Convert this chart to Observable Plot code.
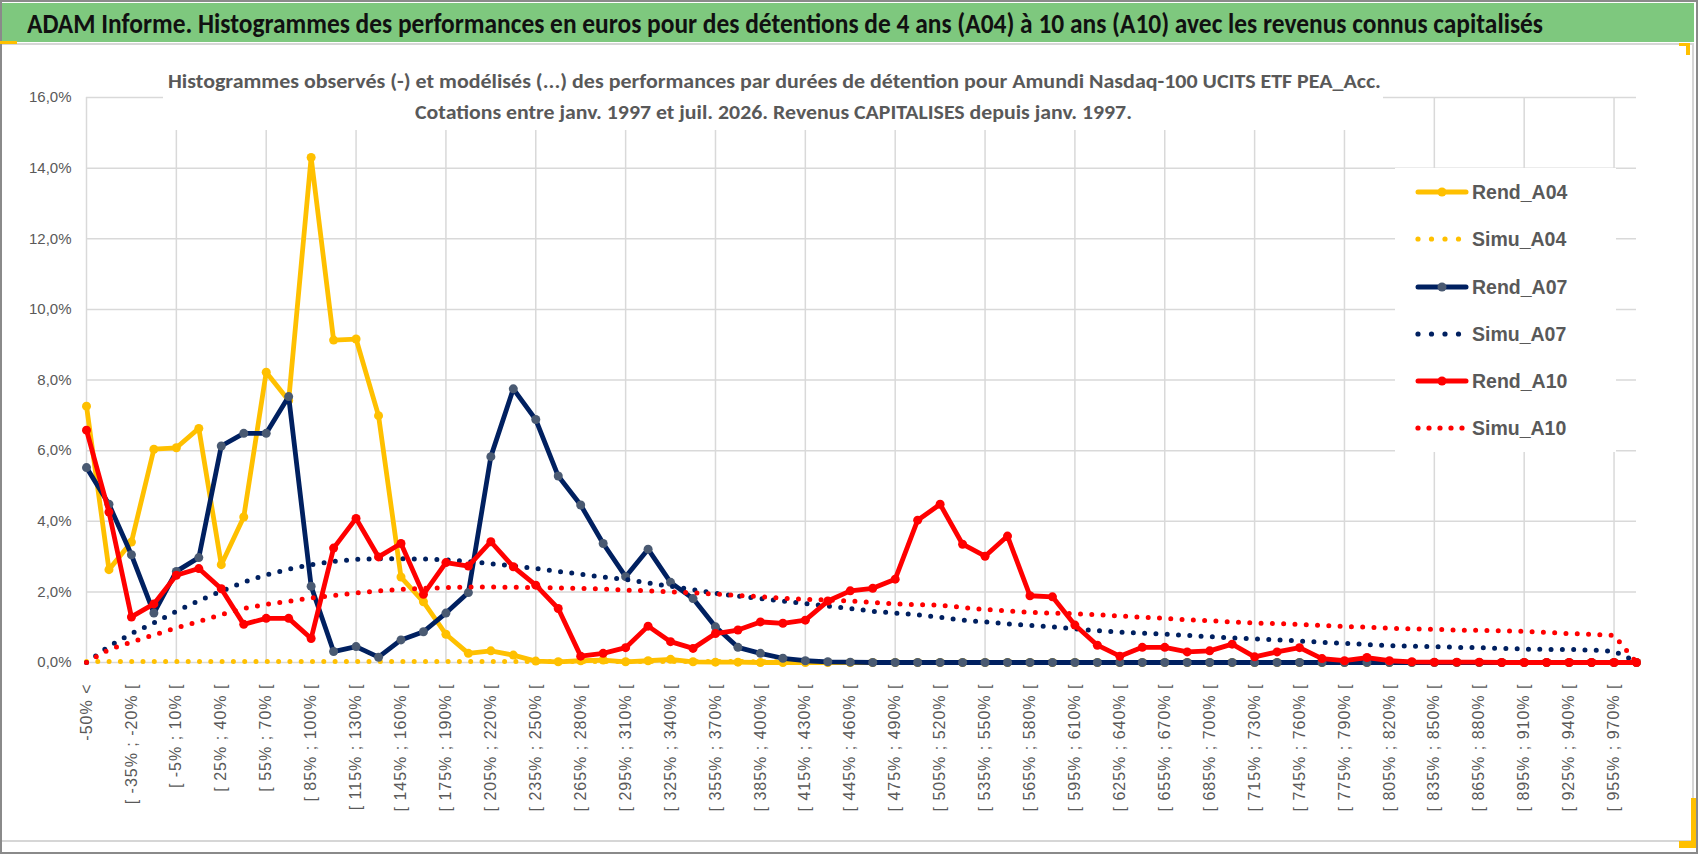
<!DOCTYPE html>
<html>
<head>
<meta charset="utf-8">
<script src="https://cdn.jsdelivr.net/npm/d3@7"></script>
<script src="https://cdn.jsdelivr.net/npm/@observablehq/plot@0.6"></script>
<style>
  html, body { margin: 0; padding: 0; background: #fff; }
  #wrap { position: relative; width: 1698px; height: 854px; overflow: hidden; background: #fff; }
  #wrap svg { position: absolute; left: 0; top: 0; }
  .abs { position: absolute; }
  .fit { position: absolute; white-space: nowrap; transform-origin: 0 50%; line-height: 1; }
  #title { font-family: Carlito, "Liberation Sans Narrow", "DejaVu Sans Condensed", "Liberation Sans", sans-serif; font-weight: bold; font-size: 29px; color: #111; }
  .sub { font-family: Carlito, "Liberation Sans Narrow", "DejaVu Sans Condensed", "Liberation Sans", sans-serif; font-weight: bold; font-size: 21px; color: #595959; }
  [aria-label="x-axis tick label"] text { letter-spacing: 1px; }
</style>
</head>
<body>
<div id="wrap"></div>
<script>
// ---------- data ----------
const cats = [
  "-50% <",
  "[ -50% ; -35% [", "[ -35% ; -20% [", "[ -20% ; -5% [", "[ -5% ; 10% [", "[ 10% ; 25% [",
  "[ 25% ; 40% [", "[ 40% ; 55% [", "[ 55% ; 70% [", "[ 70% ; 85% [", "[ 85% ; 100% [",
  "[ 100% ; 115% [", "[ 115% ; 130% [", "[ 130% ; 145% [", "[ 145% ; 160% [", "[ 160% ; 175% [",
  "[ 175% ; 190% [", "[ 190% ; 205% [", "[ 205% ; 220% [", "[ 220% ; 235% [", "[ 235% ; 250% [",
  "[ 250% ; 265% [", "[ 265% ; 280% [", "[ 280% ; 295% [", "[ 295% ; 310% [", "[ 310% ; 325% [",
  "[ 325% ; 340% [", "[ 340% ; 355% [", "[ 355% ; 370% [", "[ 370% ; 385% [", "[ 385% ; 400% [",
  "[ 400% ; 415% [", "[ 415% ; 430% [", "[ 430% ; 445% [", "[ 445% ; 460% [", "[ 460% ; 475% [",
  "[ 475% ; 490% [", "[ 490% ; 505% [", "[ 505% ; 520% [", "[ 520% ; 535% [", "[ 535% ; 550% [",
  "[ 550% ; 565% [", "[ 565% ; 580% [", "[ 580% ; 595% [", "[ 595% ; 610% [", "[ 610% ; 625% [",
  "[ 625% ; 640% [", "[ 640% ; 655% [", "[ 655% ; 670% [", "[ 670% ; 685% [", "[ 685% ; 700% [",
  "[ 700% ; 715% [", "[ 715% ; 730% [", "[ 730% ; 745% [", "[ 745% ; 760% [", "[ 760% ; 775% [",
  "[ 775% ; 790% [", "[ 790% ; 805% [", "[ 805% ; 820% [", "[ 820% ; 835% [", "[ 835% ; 850% [",
  "[ 850% ; 865% [", "[ 865% ; 880% [", "[ 880% ; 895% [", "[ 895% ; 910% [", "[ 910% ; 925% [",
  "[ 925% ; 940% [", "[ 940% ; 955% [", "[ 955% ; 970% [",
  "970% <"
];

const rendA04 = [
  7.26, 2.63, 3.41, 6.04, 6.08, 6.63, 2.77, 4.12, 8.22, 7.42,
  14.30, 9.13, 9.16, 6.99, 2.42, 1.72, 0.80, 0.26, 0.33, 0.21,
  0.04, 0.02, 0.05, 0.07, 0.02, 0.05, 0.09, 0.02, 0.01, 0.01,
  0, 0, 0, 0, 0, 0, 0, 0, 0, 0,
  0, 0, 0, 0, 0, 0, 0, 0, 0, 0,
  0, 0, 0, 0, 0, 0, 0, 0, 0, 0,
  0, 0, 0, 0, 0, 0, 0, 0, 0, 0
];
const simuA04 = [
  0.03, 0.03, 0.03, 0.03, 0.03, 0.03, 0.03, 0.03, 0.03, 0.03,
  0.03, 0.03, 0.03, 0.03, 0.03, 0.03, 0.03, 0.03, 0.03, 0.03,
  0.03, 0.03, 0.03, 0.03, 0.03, 0.03, 0.03, 0.03, 0.03, 0.03,
  0.02, 0.02, 0, 0, 0, 0, 0, 0, 0, 0,
  0, 0, 0, 0, 0, 0, 0, 0, 0, 0,
  0, 0, 0, 0, 0, 0, 0, 0, 0, 0,
  0, 0, 0, 0, 0, 0, 0, 0, 0, 0
];
const rendA07 = [
  5.52, 4.48, 3.05, 1.40, 2.58, 2.97, 6.13, 6.49, 6.49, 7.53,
  2.16, 0.31, 0.45, 0.15, 0.64, 0.87, 1.40, 1.98, 5.83, 7.75,
  6.88, 5.28, 4.46, 3.37, 2.43, 3.21, 2.27, 1.81, 1.01, 0.43,
  0.26, 0.12, 0.05, 0.02, 0.01, 0, 0, 0, 0, 0,
  0, 0, 0, 0, 0, 0, 0, 0, 0, 0,
  0, 0, 0, 0, 0, 0, 0, 0, 0, 0,
  0, 0, 0, 0, 0, 0, 0, 0, 0, 0
];
const simuA07 = [
  0.00, 0.46, 0.82, 1.12, 1.45, 1.75, 2.02, 2.28, 2.48, 2.64,
  2.77, 2.86, 2.92, 2.94, 2.94, 2.93, 2.91, 2.86, 2.80, 2.73,
  2.66, 2.58, 2.50, 2.42, 2.35, 2.25, 2.16, 2.06, 1.96, 1.88,
  1.81, 1.74, 1.67, 1.60, 1.53, 1.45, 1.40, 1.35, 1.28, 1.20,
  1.15, 1.09, 1.05, 1.01, 0.95, 0.90, 0.86, 0.83, 0.80, 0.77,
  0.73, 0.70, 0.67, 0.64, 0.61, 0.57, 0.54, 0.51, 0.48, 0.46,
  0.45, 0.43, 0.42, 0.40, 0.38, 0.37, 0.37, 0.35, 0.32, 0.02
];
const rendA10 = [
  6.58, 4.26, 1.29, 1.66, 2.47, 2.66, 2.09, 1.08, 1.25, 1.25,
  0.68, 3.24, 4.08, 2.99, 3.37, 1.93, 2.83, 2.73, 3.42, 2.71,
  2.19, 1.53, 0.18, 0.26, 0.42, 1.03, 0.59, 0.40, 0.82, 0.92,
  1.15, 1.11, 1.20, 1.74, 2.03, 2.10, 2.36, 4.03, 4.48, 3.35,
  3.01, 3.58, 1.89, 1.86, 1.06, 0.49, 0.18, 0.43, 0.43, 0.30,
  0.33, 0.52, 0.16, 0.30, 0.42, 0.11, 0.05, 0.14, 0.05, 0.02,
  0.01, 0.01, 0.01, 0, 0, 0, 0, 0, 0, 0
];
const simuA10 = [
  0.00, 0.37, 0.58, 0.78, 0.98, 1.16, 1.36, 1.53, 1.65, 1.73,
  1.83, 1.90, 1.97, 2.03, 2.07, 2.10, 2.12, 2.14, 2.14, 2.13,
  2.12, 2.11, 2.10, 2.08, 2.05, 2.03, 2.00, 1.97, 1.94, 1.90,
  1.86, 1.82, 1.79, 1.77, 1.74, 1.70, 1.66, 1.64, 1.62, 1.56,
  1.50, 1.46, 1.42, 1.40, 1.38, 1.35, 1.32, 1.28, 1.25, 1.21,
  1.18, 1.15, 1.12, 1.10, 1.08, 1.05, 1.02, 1.00, 0.97, 0.95,
  0.94, 0.92, 0.91, 0.90, 0.88, 0.85, 0.82, 0.80, 0.77, 0.00
];

const yTicks = [0, 2, 4, 6, 8, 10, 12, 14, 16];
const titleText = "ADAM Informe. Histogrammes des performances en euros pour des détentions de 4 ans (A04) à 10 ans (A10) avec les revenus connus capitalisés";
const subLine1 = "Histogrammes observés (-) et modélisés (...) des performances par durées de détention pour Amundi Nasdaq-100 UCITS ETF PEA_Acc.";
const subLine2 = "Cotations entre janv. 1997 et juil. 2026. Revenus CAPITALISES depuis janv. 1997.";
const seriesNames = ["Rend_A04", "Simu_A04", "Rend_A07", "Simu_A07", "Rend_A10", "Simu_A10"];

// ---------- build ----------
const YELLOW = "#FFC000", NAVY = "#002060", NAVY_DOT = "#4A5A72", RED = "#FF0000";
const rows = arr => cats.map((c, i) => ({cat: c, v: arr[i]}));
const labelCats = cats.filter((d, i) => i % 2 === 0);
const gridCats = cats.filter((d, i) => i % 4 === 0);
const GRID = "#d9d9d9";
const dotted = {strokeWidth: 5, strokeDasharray: "0 11.3", strokeLinecap: "round", strokeLinejoin: "round"};

const chart = Plot.plot({
  width: 1698,
  height: 854,
  marginLeft: 86,
  marginRight: 62,
  marginTop: 97,
  marginBottom: 192,
  style: {fontFamily: "'Liberation Sans', Arial, sans-serif", background: "transparent", overflow: "visible"},
  x: {type: "point", domain: cats, padding: 0},
  y: {domain: [0, 16]},
  marks: [
    Plot.ruleY(yTicks, {stroke: GRID, strokeWidth: 1.5}),
    Plot.ruleX(gridCats, {stroke: GRID, strokeWidth: 1.5}),
    Plot.axisY({ticks: yTicks, tickFormat: d => d.toFixed(1).replace(".", ",") + "%", tickSize: 0, tickPadding: 15, fontSize: 15, color: "#595959", label: null}),
    Plot.axisX({ticks: labelCats, tickRotate: -90, tickSize: 0, tickPadding: 21, fontSize: 16, color: "#595959", label: null}),
    Plot.line(rows(rendA04), {x: "cat", y: "v", stroke: YELLOW, strokeWidth: 4.8, strokeLinejoin: "round"}),
    Plot.dot(rows(rendA04), {x: "cat", y: "v", r: 4.5, fill: YELLOW}),
    Plot.line(rows(simuA04), {x: "cat", y: "v", stroke: YELLOW, ...dotted}),
    Plot.line(rows(rendA07), {x: "cat", y: "v", stroke: NAVY, strokeWidth: 4.8, strokeLinejoin: "round"}),
    Plot.dot(rows(rendA07), {x: "cat", y: "v", r: 4.5, fill: NAVY_DOT}),
    Plot.line(rows(simuA07), {x: "cat", y: "v", stroke: NAVY, ...dotted}),
    Plot.line(rows(rendA10), {x: "cat", y: "v", stroke: RED, strokeWidth: 4.8, strokeLinejoin: "round"}),
    Plot.dot(rows(rendA10), {x: "cat", y: "v", r: 4.5, fill: RED}),
    Plot.line(rows(simuA10), {x: "cat", y: "v", stroke: RED, ...dotted})
  ]
});

const wrap = document.getElementById("wrap");
wrap.appendChild(chart);

function addDiv(css) {
  const d = document.createElement("div");
  d.className = "abs";
  Object.assign(d.style, css);
  wrap.appendChild(d);
  return d;
}

// frame & decorations
addDiv({left: "0px", top: "0px", width: "1698px", height: "2px", background: "#8a8a8a"});
addDiv({left: "0px", top: "0px", width: "2px", height: "854px", background: "#8a8a8a"});
addDiv({left: "0px", top: "852px", width: "1698px", height: "2px", background: "#8a8a8a"});
addDiv({left: "1696px", top: "0px", width: "2px", height: "854px", background: "#8a8a8a"});
addDiv({left: "2px", top: "3px", width: "1692px", height: "39px", background: "#7EC87E"});
addDiv({left: "2px", top: "43px", width: "1692px", height: "2px", background: "#d6d6d6"});
addDiv({left: "1692px", top: "45px", width: "1.5px", height: "796px", background: "#d6d6d6"});
addDiv({left: "2px", top: "840px", width: "1691px", height: "1.5px", background: "#d6d6d6"});
addDiv({left: "0px", top: "41px", width: "17px", height: "3px", background: YELLOW});
addDiv({left: "1686px", top: "43px", width: "4px", height: "12px", background: YELLOW});
addDiv({left: "1679px", top: "43px", width: "11px", height: "3px", background: YELLOW});
addDiv({left: "1691px", top: "798px", width: "5px", height: "50px", background: YELLOW});
addDiv({left: "1679px", top: "841px", width: "17px", height: "7px", background: YELLOW});

// white boxes (subtitle & legend) over gridlines
addDiv({left: "163px", top: "60px", width: "1220px", height: "70px", background: "#fff"});
addDiv({left: "1395px", top: "168px", width: "221px", height: "284px", background: "#fff"});

function fitText(cls, id, text, x0, x1, yc) {
  const s = document.createElement("div");
  s.className = "fit " + cls;
  if (id) s.id = id;
  s.textContent = text;
  wrap.appendChild(s);
  const r = s.getBoundingClientRect();
  s.style.left = x0 + "px";
  s.style.top = (yc - r.height / 2) + "px";
  s.style.transform = "scaleX(" + ((x1 - x0) / r.width) + ")";
  return s;
}
fitText("", "title", titleText, 27, 1543, 23);
fitText("sub", null, subLine1, 168, 1381, 81);
fitText("sub", null, subLine2, 415, 1132, 112);

// legend
const legY = [192, 239, 287, 334, 381, 428];
const legStyle = [
  {c: YELLOW, m: YELLOW, dots: false},
  {c: YELLOW, dots: true, n: 4},
  {c: NAVY, m: NAVY_DOT, dots: false},
  {c: NAVY, dots: true, n: 4},
  {c: RED, m: RED, dots: false},
  {c: RED, dots: true, n: 5}
];
const ns = "http://www.w3.org/2000/svg";
const lsvg = document.createElementNS(ns, "svg");
lsvg.setAttribute("width", 1698); lsvg.setAttribute("height", 854);
lsvg.style.position = "absolute"; lsvg.style.left = "0"; lsvg.style.top = "0";
seriesNames.forEach((name, i) => {
  const st = legStyle[i], y = legY[i];
  if (!st.dots) {
    const l = document.createElementNS(ns, "line");
    l.setAttribute("x1", 1418); l.setAttribute("x2", 1466); l.setAttribute("y1", y); l.setAttribute("y2", y);
    l.setAttribute("stroke", st.c); l.setAttribute("stroke-width", 5); l.setAttribute("stroke-linecap", "round");
    lsvg.appendChild(l);
    const c = document.createElementNS(ns, "circle");
    c.setAttribute("cx", 1442); c.setAttribute("cy", y); c.setAttribute("r", 4.5); c.setAttribute("fill", st.m);
    lsvg.appendChild(c);
  } else {
    for (let k = 0; k < st.n; k++) {
      const c = document.createElementNS(ns, "circle");
      c.setAttribute("cx", 1418 + k * (st.n === 5 ? 11 : 13.5)); c.setAttribute("cy", y); c.setAttribute("r", 2.6); c.setAttribute("fill", st.c);
      lsvg.appendChild(c);
    }
  }
  const t = document.createElementNS(ns, "text");
  t.setAttribute("x", 1472); t.setAttribute("y", y); t.setAttribute("dy", "0.36em");
  t.setAttribute("font-family", "'Liberation Sans', Arial, sans-serif");
  t.setAttribute("font-weight", "bold"); t.setAttribute("font-size", 19.5); t.setAttribute("fill", "#595959");
  t.textContent = name;
  lsvg.appendChild(t);
});
wrap.appendChild(lsvg);
</script>
</body>
</html>
